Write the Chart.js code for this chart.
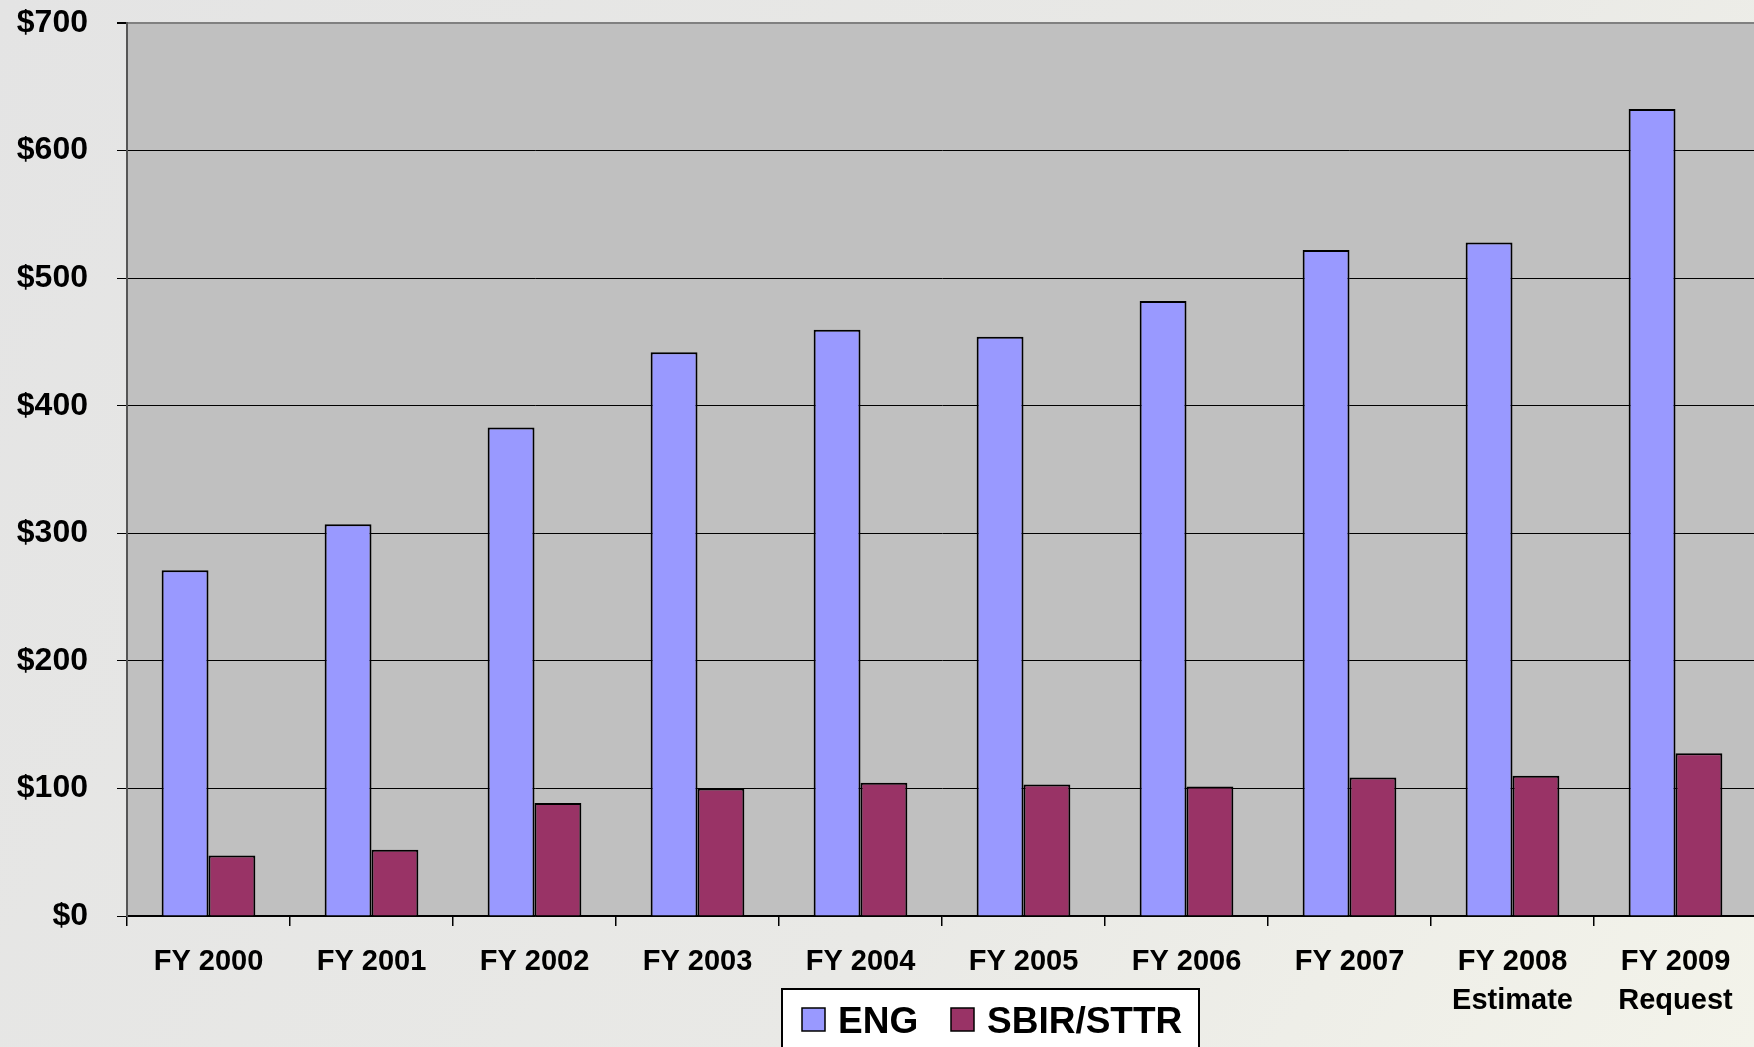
<!DOCTYPE html>
<html><head><meta charset="utf-8">
<script src="https://cdn.jsdelivr.net/npm/chart.js@4.4.1/dist/chart.umd.min.js"></script>
<style>html,body{margin:0;padding:0;overflow:hidden;background:#e6e6e6}</style>
</head><body>
<canvas id="c" width="1757" height="1047" style="display:block;width:1757px;height:1047px"></canvas>
<script>
const categories = [["FY 2000"],["FY 2001"],["FY 2002"],["FY 2003"],["FY 2004"],["FY 2005"],["FY 2006"],["FY 2007"],["FY 2008","Estimate"],["FY 2009","Request"]];
const engValues = [271, 307, 383, 442, 459.5, 454, 482, 522, 528, 632.5];
const sbirValues = [47.5, 52, 88.5, 100, 104.5, 103, 101.5, 108.5, 110, 127.5];
const yMin = 0, yMax = 700, yStep = 100;
const seriesNames = ["ENG", "SBIR/STTR"];
const seriesColors = ["#9999FF", "#993366"];

const FONT = "'Liberation Sans', Arial, sans-serif";

const bgPlugin = {
  id: 'bg',
  beforeDraw(chart) {
    const {ctx, chartArea: a, width, height} = chart;
    ctx.save();
    const g = ctx.createLinearGradient(0, 0, width, height);
    g.addColorStop(0, '#e4e4e4');
    g.addColorStop(0.6, '#e9e9e6');
    g.addColorStop(1, '#f3f3ea');
    ctx.fillStyle = g;
    ctx.fillRect(0, 0, width, height);
    ctx.fillStyle = '#C0C0C0';
    ctx.fillRect(a.left, a.top, a.right - a.left, a.bottom - a.top);
    ctx.restore();
  }
};

const legendPlugin = {
  id: 'boxLegend',
  afterDraw(chart) {
    const {ctx} = chart;
    const x0 = 782, y0 = 989, x1 = 1199, y1 = 1060;
    ctx.save();
    ctx.fillStyle = '#ffffff';
    ctx.fillRect(x0, y0, x1 - x0, y1 - y0);
    ctx.strokeStyle = '#000';
    ctx.lineWidth = 2;
    ctx.strokeRect(x0, y0, x1 - x0, y1 - y0);
    ctx.font = 'bold 37px ' + FONT;
    ctx.textBaseline = 'alphabetic';
    const items = chart.data.datasets.map(d => ({label: d.label, color: d.backgroundColor}));
    const boxX = [802, 951];
    items.forEach((it, i) => {
      ctx.fillStyle = it.color;
      ctx.fillRect(boxX[i], 1008, 23, 23);
      ctx.lineWidth = 1.5;
      ctx.strokeStyle = '#000';
      ctx.strokeRect(boxX[i], 1008, 23, 23);
      ctx.fillStyle = '#000';
      ctx.fillText(it.label, boxX[i] + 36, 1033);
    });
    ctx.restore();
  }
};

new Chart(document.getElementById('c'), {
  type: 'bar',
  data: {
    labels: categories,
    datasets: [
      {label: seriesNames[0], data: engValues, backgroundColor: seriesColors[0], borderColor: '#000', borderWidth: 2},
      {label: seriesNames[1], data: sbirValues, backgroundColor: seriesColors[1], borderColor: '#000', borderWidth: 2}
    ]
  },
  options: {
    responsive: false,
    devicePixelRatio: 1,
    animation: false,
    categoryPercentage: 0.575,
    barPercentage: 1.0,
    layout: {padding: {top: 23, right: 0, left: 0, bottom: 0}},
    plugins: {legend: {display: false}, tooltip: {enabled: false}},
    scales: {
      x: {
        offset: true,
        grid: {display: true, drawOnChartArea: false, drawTicks: true, tickLength: 10, color: '#000', lineWidth: 1.5},
        border: {display: true, color: '#000', width: 1.5},
        ticks: {color: '#000', font: {family: FONT, size: 29, weight: 'bold', lineHeight: 1.35}, padding: 16, maxRotation: 0, autoSkip: false},
        afterFit(axis) { axis.height = 131; axis.paddingLeft = 0; axis.paddingRight = 0; }
      },
      y: {
        min: yMin, max: yMax,
        grid: {
          color: c => (c.tick && c.tick.value === yMax) ? '#808080' : '#000',
          lineWidth: c => (c.tick && c.tick.value === yMax) ? 2 : 1,
          tickLength: 10,
          tickColor: '#000'
        },
        border: {display: true, color: '#555', width: 2},
        ticks: {stepSize: yStep, color: '#000', padding: 29, font: {family: FONT, size: 32, weight: 'bold'}, callback: v => '$' + v},
        afterFit(axis) { axis.width = 127; axis.paddingTop = 0; axis.paddingBottom = 0; }
      }
    }
  },
  plugins: [bgPlugin, legendPlugin]
});
</script>
</body></html>
